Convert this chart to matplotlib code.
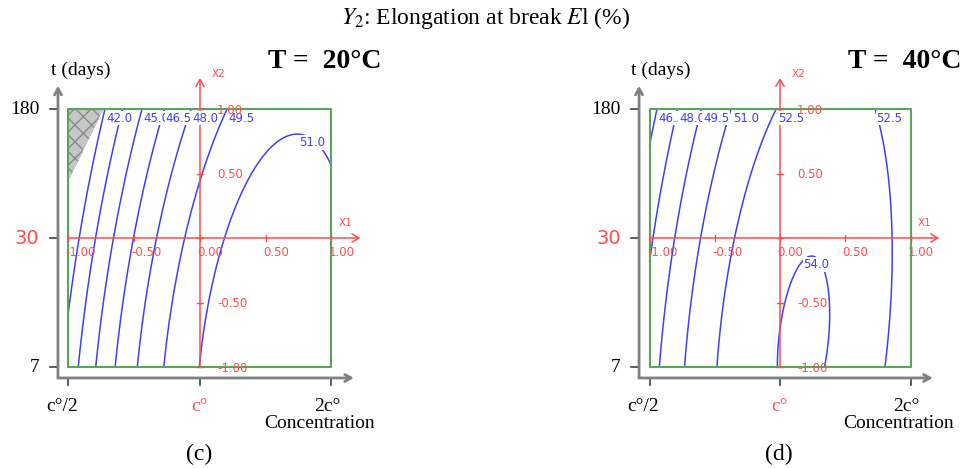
import numpy as np
import matplotlib
matplotlib.use("Agg")
import matplotlib.pyplot as plt

plt.rcParams["mathtext.fontset"] = "stix"
plt.rcParams["hatch.color"] = "#8a8a8a"
plt.rcParams["hatch.linewidth"] = 1.0

SERIF = ["Liberation Serif", "DejaVu Serif"]
SANS = ["DejaVu Sans"]

RED = "#ff4d4d"
BLUE = "#4040f0"
GREEN = "#5aa55a"
GRAY = "#808080"

W, H = 960, 468

# Coded-variable ticks and natural-unit labels of the outer axes
coded_ticks = [-1.0, -0.5, 0.0, 0.5, 1.0]
coded_tick_labels = ["-1.00", "-0.50", "0.00", "0.50", "1.00"]
time_labels = ["7", "30", "180"]
conc_labels = ["c°/2", "c°", "2c°"]

# Iso-response points (X1, X2, El %) at T = 20 °C
c_x1 = [-0.72, -0.82, -0.94, -1.00,
        -0.585, -0.67, -0.80, -0.86, -0.92,
        -0.45, -0.49, -0.66, -0.72, -0.79,
        -0.29, -0.34, -0.51, -0.57, -0.65,
        -0.09, -0.175, -0.35, -0.40, -0.48,
        0.17, 0.04, -0.14, -0.20, -0.28,
        0.00, 0.05, 0.15, 0.33, 0.46, 0.63, 0.85, 1.00]
c_x2 = [1.00, 0.60, 0.00, -0.48,
        1.00, 0.60, 0.00, -0.48, -1.00,
        1.00, 0.60, 0.00, -0.48, -1.00,
        1.00, 0.60, 0.00, -0.48, -1.00,
        1.00, 0.60, 0.00, -0.48, -1.00,
        1.00, 0.60, 0.00, -0.48, -1.00,
        -1.00, -0.48, 0.00, 0.40, 0.58, 0.76, 0.70, 0.53]
c_el = [42.0] * 4 + [43.5] * 5 + [45.0] * 5 + [46.5] * 5 + [48.0] * 5 + \
       [49.5] * 5 + [51.0] * 8
c_levels = [42.0, 43.5, 45.0, 46.5, 48.0, 49.5, 51.0]
c_top_labels = [42.0, 45.0, 46.5, 48.0, 49.5]
c_peak_labels = [51.0]
# corner of the 20 °C domain that is not explored: X2 - a*X1 > b
c_excl = (2.1, 2.55)

# Iso-response points (X1, X2, El %) at T = 40 °C
d_x1 = [-0.94, -1.00,
        -0.79, -0.87, -0.97, -1.00,
        -0.61, -0.70, -0.80, -0.86, -0.93,
        -0.37, -0.48, -0.61, -0.67, -0.74,
        -0.02, -0.18, -0.36, -0.42, -0.48,
        0.73, 0.81, 0.84, 0.86, 0.86, 0.79,
        -0.04, 0.00, 0.23, 0.40, 0.34]
d_x2 = [1.00, 0.71,
        1.00, 0.60, 0.00, -0.08,
        1.00, 0.60, 0.00, -0.50, -1.00,
        1.00, 0.60, 0.00, -0.50, -1.00,
        1.00, 0.60, 0.00, -0.50, -1.00,
        1.00, 0.60, 0.35, 0.00, -0.43, -1.00,
        -1.00, -0.50, -0.05, -0.50, -1.00]
d_el = [46.5] * 2 + [48.0] * 4 + [49.5] * 5 + [51.0] * 5 + [52.5] * 5 + \
       [52.5] * 6 + [54.0] * 5
d_levels = [46.5, 48.0, 49.5, 51.0, 52.5, 54.0]
d_top_labels = [46.5, 48.0, 49.5, 51.0, 52.5]
d_peak_labels = [54.0]


def fit_surface(x1, x2, y):
    x1, x2, y = map(np.asarray, (x1, x2, y))
    A = np.column_stack([np.ones_like(x1), x1, x2, x1 ** 2, x2 ** 2, x1 * x2])
    coef, *_ = np.linalg.lstsq(A, y, rcond=None)
    return coef


def eval_surface(coef, X1, X2):
    return (coef[0] + coef[1] * X1 + coef[2] * X2 + coef[3] * X1 ** 2
            + coef[4] * X2 ** 2 + coef[5] * X1 * X2)


def make_axes(fig, cx, cy, sx, sy, p0, p1):
    ax = fig.add_axes([p0 / W, 0, (p1 - p0) / W, 1])
    ax.set_xlim((p0 - cx) / sx, (p1 - cx) / sx)
    ax.set_ylim((cy - H) / sy, cy / sy)
    ax.axis("off")
    return ax


def draw_panel(ax, x1, x2, el, levels, top_labels, peak_labels, temp, letter,
               peak_ha, excl=None):
    coef = fit_surface(x1, x2, el)
    g = np.linspace(-1, 1, 401)
    X1, X2 = np.meshgrid(g, g)
    Z = eval_surface(coef, X1, X2)

    if excl is not None:
        a, b = excl
        G = X2 - a * X1
        ax.contourf(X1, X2, G, levels=[b, 1e9], colors=["#c6c6c6"],
                    hatches=["xx"], zorder=1)
        Z = np.where(G > b, np.nan, Z)

    cs = ax.contour(X1, X2, Z, levels=levels, colors=BLUE, linewidths=1.1,
                    zorder=2)

    # outer (natural units) axes
    ax.annotate("", xy=(-1.08, 1.18), xytext=(-1.08, -1.085),
                arrowprops=dict(arrowstyle="->,head_length=0.45,head_width=0.25",
                                color=GRAY, lw=2, shrinkA=0, shrinkB=0))
    ax.annotate("", xy=(1.17, -1.085), xytext=(-1.08, -1.085),
                arrowprops=dict(arrowstyle="->,head_length=0.45,head_width=0.25",
                                color=GRAY, lw=2, shrinkA=0, shrinkB=0))
    for v, lab in zip([-1.0, 0.0, 1.0], time_labels):
        ax.plot([-1.14, -1.08], [v, v], color="#404040", lw=1.2)
        if lab == "30":
            ax.text(-1.22, v, lab, ha="right", va="center", color=RED,
                    fontsize=14, family=SANS)
        else:
            ax.text(-1.22, v, lab, ha="right", va="center", color="black",
                    fontsize=14, family=SERIF)
    for v, lab in zip([-1.0, 0.0, 1.0], conc_labels):
        ax.plot([v, v], [-1.085, -1.14], color="#404040", lw=1.2)
        ax.text(v - 0.05 if v < 0 else (v - 0.03 if v > 0 else v), -1.31, lab,
                ha="center", va="center", fontsize=14, family=SERIF,
                color=RED if lab == "c°" else "black")
    ax.text(0.91, -1.44, "Concentration", ha="center", va="center",
            fontsize=14, family=SERIF)
    ax.text(-0.91, 1.30, "t (days)", ha="center", va="center", fontsize=14,
            family=SERIF)
    ax.text(0.52, 1.37, temp, ha="left", va="center", fontsize=20,
            family=SERIF, fontweight="bold")
    ax.text(-0.01, -1.68, letter, ha="center", va="center", fontsize=17,
            family=SERIF)

    # experimental domain
    ax.plot([-1, 1, 1, -1, -1], [-1, -1, 1, 1, -1], color=GREEN, lw=1.5,
            zorder=3)

    # coded axes X1, X2
    ax.annotate("", xy=(1.22, 0), xytext=(-1.0, 0),
                arrowprops=dict(arrowstyle="->,head_length=0.5,head_width=0.3",
                                color=RED, lw=1.1, shrinkA=0, shrinkB=0),
                zorder=4)
    ax.annotate("", xy=(0, 1.24), xytext=(0, -1.0),
                arrowprops=dict(arrowstyle="->,head_length=0.5,head_width=0.3",
                                color=RED, lw=1.1, shrinkA=0, shrinkB=0),
                zorder=4)
    ax.text(1.11, 0.12, "X1", color=RED, fontsize=7.5, family=SANS,
            ha="center", va="center")
    ax.text(0.14, 1.27, "X2", color=RED, fontsize=7.5, family=SANS,
            ha="center", va="center")
    for t, lab in zip(coded_ticks, coded_tick_labels):
        ax.plot([t, t], [-0.02, 0.02], color=RED, lw=1.0, zorder=4)
        ax.plot([-0.02, 0.02], [t, t], color=RED, lw=1.0, zorder=4)
        ax.text(t - 0.02, -0.11, lab, color=RED, fontsize=8.5, family=SANS,
                ha="left", va="center", zorder=6)
        if t != 0.0:
            ax.text(0.13, t - 0.01, lab, color=RED, fontsize=8.5, family=SANS,
                    ha="left", va="center", zorder=6)

    # iso-response labels
    for lev, segs in zip(cs.levels, cs.allsegs):
        for seg in segs:
            if len(seg) < 2:
                continue
            i = np.argmax(seg[:, 1])
            px, py = seg[i]
            txt = f"{lev:.1f}"
            if py > 0.99 and any(abs(lev - v) < 1e-6 for v in top_labels):
                ax.text(px + 0.012, 0.93, txt, color=BLUE, fontsize=8.5,
                        family=SANS, ha="left", va="center", zorder=5,
                        bbox=dict(fc="white", ec="none", pad=0.4))
            elif py <= 0.99 and any(abs(lev - v) < 1e-6 for v in peak_labels):
                dx = 0.015 if peak_ha == "left" else 0.04
                ax.text(px + dx, py - 0.065, txt, color=BLUE, fontsize=8.5,
                        family=SANS, ha=peak_ha, va="center", zorder=5,
                        bbox=dict(fc="white", ec="none", pad=0.4))


fig = plt.figure(figsize=(W / 100, H / 100), dpi=100)
fig.patch.set_facecolor("white")

ax_c = make_axes(fig, 200, 238, 131.5, 129, 0, 480)
draw_panel(ax_c, c_x1, c_x2, c_el, c_levels, c_top_labels, c_peak_labels,
           "T =  20°C", "(c)", "left", excl=c_excl)

ax_d = make_axes(fig, 780, 238, 130.5, 129, 480, 960)
draw_panel(ax_d, d_x1, d_x2, d_el, d_levels, d_top_labels, d_peak_labels,
           "T =  40°C", "(d)", "center")

fig.text(486 / W, 1 - 18 / H, r"$Y_2$: Elongation at break $E$l (%)",
         ha="center", va="center", fontsize=17, family=SERIF)

fig.savefig("out.png", dpi=100, facecolor="white")
